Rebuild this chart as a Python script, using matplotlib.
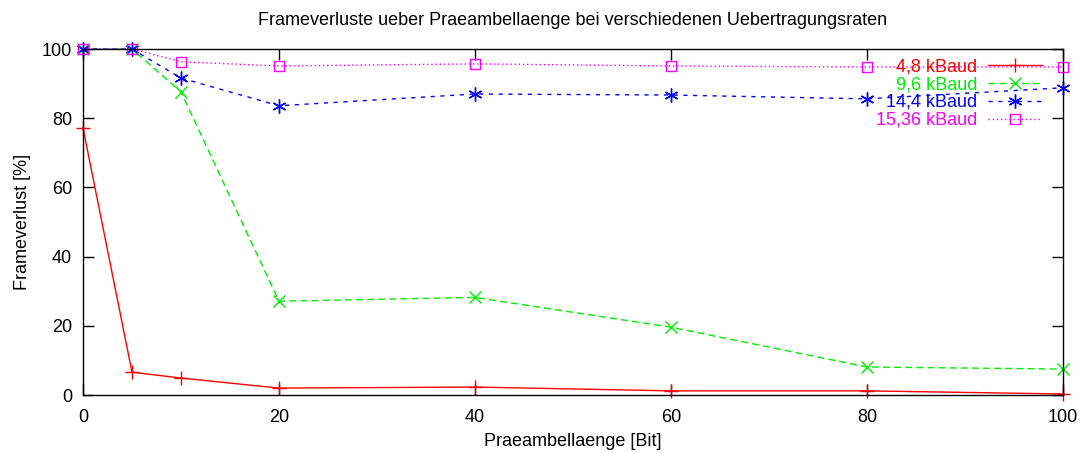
import numpy as np
import matplotlib
matplotlib.use("Agg")
import matplotlib.pyplot as plt

# Daten
praeambel = [0, 5, 10, 20, 40, 60, 80, 100]
verlust_4_8 = [77.2, 6.6, 4.9, 2.0, 2.3, 1.2, 1.2, 0.3]
verlust_9_6 = [100, 100, 87.6, 27.1, 28.2, 19.6, 8.1, 7.5]
verlust_14_4 = [100, 100, 91.6, 83.6, 87.0, 86.7, 85.6, 88.8]
verlust_15_36 = [100, 100, 96.3, 95.1, 95.7, 95.1, 94.8, 94.8]
namen = ["4,8 kBaud", "9,6 kBaud", "14,4 kBaud", "15,36 kBaud"]

plt.rcParams['font.family'] = ['Liberation Sans', 'DejaVu Sans']
plt.rcParams['font.size'] = 13

fig = plt.figure(figsize=(10.82, 4.53), dpi=100)
ax = fig.add_axes([0.0767, 0.128, 0.9057, 0.7638])

ax.plot(praeambel, verlust_4_8, color="#ff0000", lw=1, ls="-",
        marker="+", ms=10, mew=1, label=namen[0], clip_on=False)
ax.plot(praeambel, verlust_9_6, color="#00ee00", lw=1, ls=(0, (5, 3)),
        marker="x", ms=8, mew=1, label=namen[1], clip_on=False)
ax.plot(praeambel, verlust_14_4, color="#0000ff", lw=1, ls=(0, (3, 4)),
        marker=(6, 2, 0), ms=10, mew=1, label=namen[2], clip_on=False)
ax.plot(praeambel, verlust_15_36, color="#ff00ff", lw=1, ls=(0, (1, 2)),
        marker="s", ms=7, mfc="none", mew=1, label=namen[3], clip_on=False)

ax.set_xlim(0, 100)
ax.set_ylim(0, 100)
ax.set_xticks(np.arange(0, 101, 20))
ax.set_yticks(np.arange(0, 101, 20))
ax.tick_params(direction="in", length=8, width=1, top=True, right=True,
               labelsize=13)
ax.tick_params(axis="x", pad=10)
ax.tick_params(axis="y", pad=8)
for s in ax.spines.values():
    s.set_linewidth(1)

ax.set_xlabel("Praeambellaenge [Bit]", labelpad=5)
ax.set_ylabel("Frameverlust [%]", labelpad=8)
ax.set_title("Frameverluste ueber Praeambellaenge bei verschiedenen Uebertragungsraten",
             fontsize=13, pad=17)

leg = ax.legend(loc="upper right", bbox_to_anchor=(0.992, 1.01), frameon=False,
                markerfirst=False, handlelength=3.0, handletextpad=0.6,
                labelspacing=0.05, borderpad=0.2, fontsize=13)
for text, line in zip(leg.get_texts(), leg.get_lines()):
    text.set_color(line.get_color())
    text.set_ha("right")

fig.savefig("out.png", dpi=100)
